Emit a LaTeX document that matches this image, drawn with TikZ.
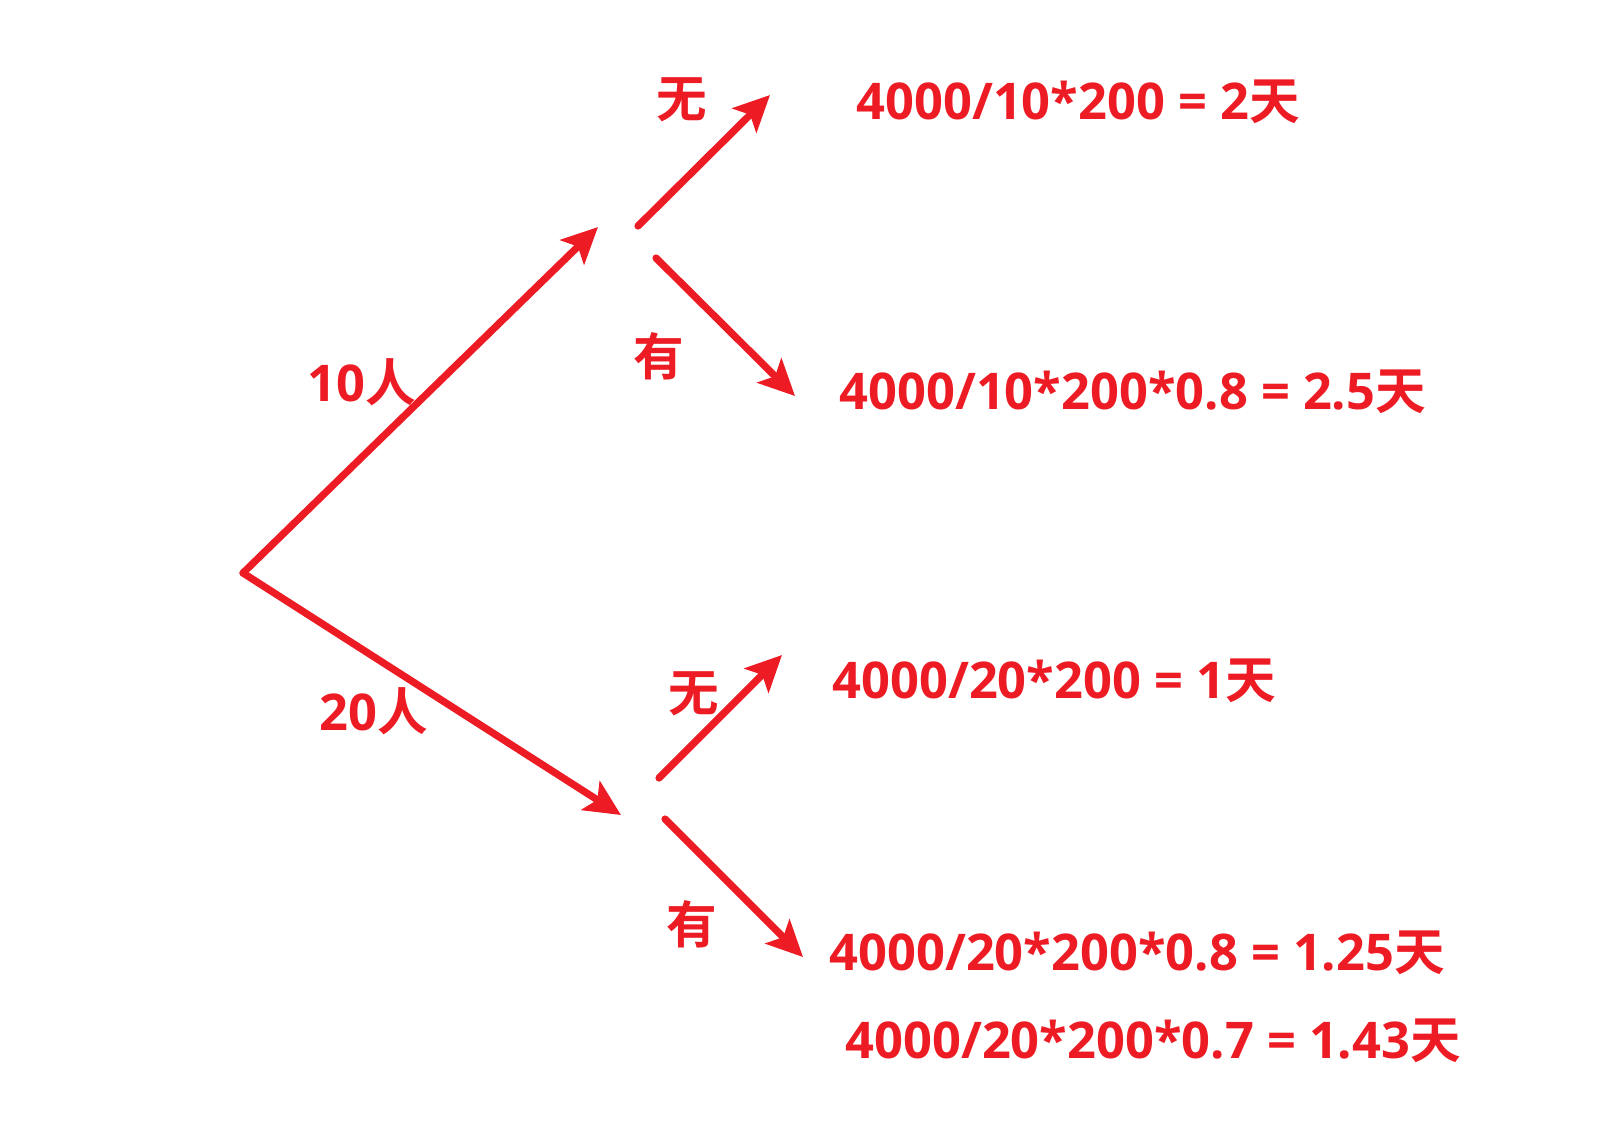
\documentclass[tikz,border=0pt]{standalone}
\usepackage{fontspec}
\setmainfont{Open Sans}
\newfontfamily\cjk{Noto Sans CJK SC}[BoldFont={Noto Sans CJK SC Bold}]
\newcommand{\hz}[1]{{\cjk\bfseries #1}}
\usetikzlibrary{arrows.meta}
\definecolor{treered}{HTML}{ED1C24}

\begin{document}
\begin{tikzpicture}[x=0.5pt,y=-0.5pt,->,>={Stealth[length=18pt,width=17pt,inset=4pt]},
    line width=3.6pt,line cap=round,draw=treered,
    lbl/.style={text=treered,font=\bfseries\fontsize{25.3}{30}\selectfont,inner sep=0pt},
    res/.style={lbl,anchor=base west}]
        \useasboundingbox (0,0) rectangle (1599,1132);
        % punti
        \coordinate (O)   at (243,573);
        \coordinate (P10) at (598,227);
        \coordinate (P20) at (621,815);
        \coordinate (S1)  at (638,226);
        \coordinate (T1)  at (770,95);
        \coordinate (S2)  at (656,258);
        \coordinate (T2)  at (795,396);
        \coordinate (S3)  at (659,778);
        \coordinate (T3)  at (782,655);
        \coordinate (S4)  at (665,819);
        \coordinate (T4)  at (803,957);
        % etichette
        \node[lbl,anchor=base] (n10) at (362,401) {10\hz{人}};
        \node[lbl,anchor=base] (n20) at (374,730) {20\hz{人}};
        \node[lbl] (wu1) at (682,100) {\hz{无}};
        \node[lbl] (you1) at (659,356) {\hz{有}};
        \node[lbl] (wu2) at (694,694) {\hz{无}};
        \node[lbl] (you2) at (692,924) {\hz{有}};
        % risultati
        \node[res] (r1) at (853,119) {4000/10*200 = 2\hz{天}};
        \node[res] (r2) at (836,409) {4000/10*200*0.8 = 2.5\hz{天}};
        \node[res] (r3) at (829,698) {4000/20*200 = 1\hz{天}};
        \node[res] (r4) at (826,970) {4000/20*200*0.8 = 1.25\hz{天}};
        \node[res] (r5) at (842,1058) {4000/20*200*0.7 = 1.43\hz{天}};
        % archi
        \path
            (O)  edge (P10)
                 edge (P20)
            (S1) edge (T1)
            (S2) edge (T2)
            (S3) edge (T3)
            (S4) edge (T4);
        \end{tikzpicture}
\end{document}
